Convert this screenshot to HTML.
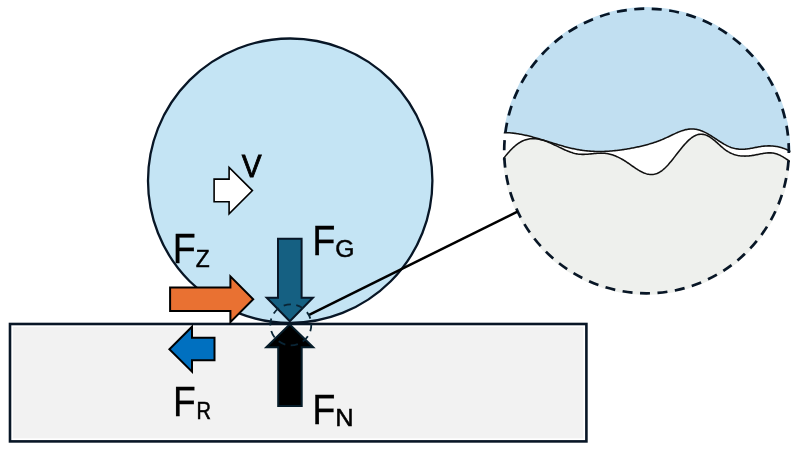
<!DOCTYPE html>
<html><head><meta charset="utf-8"><style>
html,body{margin:0;padding:0;background:#fff;width:800px;height:450px;overflow:hidden}
svg{display:block;will-change:transform}
text{font-family:"Liberation Sans",sans-serif;fill:#000}
</style></head><body>
<svg width="800" height="450" viewBox="0 0 800 450">
<defs>
<clipPath id="mag"><circle cx="646.5" cy="151" r="144"/></clipPath>
</defs>
<!-- ground rect -->
<rect x="10" y="324" width="576.4" height="117.4" fill="#ffffff" stroke="#081626" stroke-width="2.6"/>
<rect x="13" y="327" width="570.4" height="111.4" fill="#f2f2f2"/>
<!-- wheel -->
<circle cx="290.2" cy="180.7" r="142.2" fill="#c4e4f4" stroke="#081626" stroke-width="2.3"/>
<!-- magnifier -->
<g clip-path="url(#mag)">
<rect x="500" y="5" width="300" height="295" fill="#ffffff"/>
<path d="M496.0,133.16 L497.0,133.04 L498.0,132.94 L499.0,132.85 L500.0,132.78 L501.0,132.72 L502.0,132.68 L503.0,132.65 L504.0,132.64 L505.0,132.64 L506.0,132.66 L507.0,132.69 L508.0,132.73 L509.0,132.78 L510.0,132.85 L511.0,132.93 L512.0,133.02 L513.0,133.13 L514.0,133.24 L515.0,133.37 L516.0,133.50 L517.0,133.65 L518.0,133.80 L519.0,133.97 L520.0,134.15 L521.0,134.33 L522.0,134.52 L523.0,134.73 L524.0,134.93 L525.0,135.15 L526.0,135.38 L527.0,135.61 L528.0,135.85 L529.0,136.09 L530.0,136.35 L531.0,136.60 L532.0,136.87 L533.0,137.14 L534.0,137.41 L535.0,137.69 L536.0,137.97 L537.0,138.26 L538.0,138.55 L539.0,138.84 L540.0,139.14 L541.0,139.44 L542.0,139.74 L543.0,140.05 L544.0,140.35 L545.0,140.66 L546.0,140.97 L547.0,141.28 L548.0,141.59 L549.0,141.90 L550.0,142.21 L551.0,142.52 L552.0,142.83 L553.0,143.14 L554.0,143.45 L555.0,143.75 L556.0,144.06 L557.0,144.36 L558.0,144.66 L559.0,144.96 L560.0,145.25 L561.0,145.54 L562.0,145.82 L563.0,146.11 L564.0,146.38 L565.0,146.66 L566.0,146.92 L567.0,147.19 L568.0,147.44 L569.0,147.69 L570.0,147.94 L571.0,148.18 L572.0,148.41 L573.0,148.63 L574.0,148.85 L575.0,149.05 L576.0,149.25 L577.0,149.45 L578.0,149.63 L579.0,149.80 L580.0,149.97 L581.0,150.12 L582.0,150.27 L583.0,150.41 L584.0,150.54 L585.0,150.66 L586.0,150.77 L587.0,150.87 L588.0,150.96 L589.0,151.05 L590.0,151.13 L591.0,151.20 L592.0,151.26 L593.0,151.31 L594.0,151.36 L595.0,151.40 L596.0,151.43 L597.0,151.45 L598.0,151.46 L599.0,151.47 L600.0,151.47 L601.0,151.46 L602.0,151.45 L603.0,151.43 L604.0,151.40 L605.0,151.36 L606.0,151.32 L607.0,151.27 L608.0,151.22 L609.0,151.15 L610.0,151.08 L611.0,151.01 L612.0,150.93 L613.0,150.84 L614.0,150.75 L615.0,150.64 L616.0,150.54 L617.0,150.43 L618.0,150.31 L619.0,150.19 L620.0,150.06 L621.0,149.92 L622.0,149.78 L623.0,149.64 L624.0,149.49 L625.0,149.33 L626.0,149.17 L627.0,149.01 L628.0,148.83 L629.0,148.66 L630.0,148.48 L631.0,148.29 L632.0,148.11 L633.0,147.91 L634.0,147.71 L635.0,147.51 L636.0,147.30 L637.0,147.09 L638.0,146.88 L639.0,146.66 L640.0,146.43 L641.0,146.20 L642.0,145.96 L643.0,145.72 L644.0,145.47 L645.0,145.22 L646.0,144.95 L647.0,144.68 L648.0,144.41 L649.0,144.12 L650.0,143.83 L651.0,143.53 L652.0,143.22 L653.0,142.90 L654.0,142.58 L655.0,142.24 L656.0,141.90 L657.0,141.54 L658.0,141.18 L659.0,140.80 L660.0,140.42 L661.0,140.02 L662.0,139.62 L663.0,139.20 L664.0,138.77 L665.0,138.33 L666.0,137.88 L667.0,137.42 L668.0,136.95 L669.0,136.47 L670.0,136.00 L671.0,135.52 L672.0,135.04 L673.0,134.56 L674.0,134.09 L675.0,133.63 L676.0,133.17 L677.0,132.73 L678.0,132.30 L679.0,131.89 L680.0,131.50 L681.0,131.12 L682.0,130.77 L683.0,130.45 L684.0,130.14 L685.0,129.87 L686.0,129.63 L687.0,129.43 L688.0,129.25 L689.0,129.12 L690.0,129.02 L691.0,128.97 L692.0,128.96 L693.0,128.99 L694.0,129.07 L695.0,129.18 L696.0,129.34 L697.0,129.53 L698.0,129.76 L699.0,130.03 L700.0,130.34 L701.0,130.68 L702.0,131.06 L703.0,131.47 L704.0,131.91 L705.0,132.39 L706.0,132.89 L707.0,133.42 L708.0,133.98 L709.0,134.56 L710.0,135.16 L711.0,135.78 L712.0,136.41 L713.0,137.05 L714.0,137.70 L715.0,138.36 L716.0,139.02 L717.0,139.68 L718.0,140.34 L719.0,140.99 L720.0,141.64 L721.0,142.27 L722.0,142.89 L723.0,143.49 L724.0,144.08 L725.0,144.64 L726.0,145.18 L727.0,145.69 L728.0,146.17 L729.0,146.62 L730.0,147.03 L731.0,147.41 L732.0,147.74 L733.0,148.04 L734.0,148.31 L735.0,148.54 L736.0,148.73 L737.0,148.89 L738.0,149.03 L739.0,149.13 L740.0,149.20 L741.0,149.24 L742.0,149.25 L743.0,149.24 L744.0,149.20 L745.0,149.14 L746.0,149.05 L747.0,148.94 L748.0,148.81 L749.0,148.66 L750.0,148.50 L751.0,148.33 L752.0,148.15 L753.0,147.96 L754.0,147.77 L755.0,147.57 L756.0,147.38 L757.0,147.19 L758.0,147.00 L759.0,146.82 L760.0,146.65 L761.0,146.49 L762.0,146.35 L763.0,146.22 L764.0,146.11 L765.0,146.03 L766.0,145.96 L767.0,145.91 L768.0,145.88 L769.0,145.88 L770.0,145.89 L771.0,145.93 L772.0,145.98 L773.0,146.06 L774.0,146.17 L775.0,146.29 L776.0,146.44 L777.0,146.61 L778.0,146.80 L779.0,147.02 L780.0,147.26 L781.0,147.53 L782.0,147.83 L783.0,148.14 L784.0,148.49 L785.0,148.86 L786.0,149.25 L787.0,149.67 L788.0,150.12 L789.0,150.60 L790.0,151.10 L791.0,151.63 L792.0,152.19 L793.0,152.78 L794.0,153.40 L795.0,154.05 L796.0,154.72 L795,0 L500,0 Z" fill="#c1dff1"/>
<path d="M494.0,171.69 L495.0,170.24 L496.0,168.79 L497.0,167.36 L498.0,165.94 L499.0,164.54 L500.0,163.16 L501.0,161.80 L502.0,160.47 L503.0,159.16 L504.0,157.87 L505.0,156.61 L506.0,155.38 L507.0,154.19 L508.0,153.02 L509.0,151.90 L510.0,150.81 L511.0,149.76 L512.0,148.75 L513.0,147.78 L514.0,146.86 L515.0,145.98 L516.0,145.16 L517.0,144.38 L518.0,143.65 L519.0,142.98 L520.0,142.36 L521.0,141.80 L522.0,141.28 L523.0,140.81 L524.0,140.39 L525.0,140.02 L526.0,139.69 L527.0,139.41 L528.0,139.18 L529.0,138.98 L530.0,138.83 L531.0,138.72 L532.0,138.65 L533.0,138.62 L534.0,138.63 L535.0,138.67 L536.0,138.75 L537.0,138.87 L538.0,139.02 L539.0,139.20 L540.0,139.41 L541.0,139.66 L542.0,139.92 L543.0,140.22 L544.0,140.54 L545.0,140.88 L546.0,141.24 L547.0,141.63 L548.0,142.03 L549.0,142.44 L550.0,142.87 L551.0,143.31 L552.0,143.77 L553.0,144.23 L554.0,144.70 L555.0,145.18 L556.0,145.66 L557.0,146.14 L558.0,146.63 L559.0,147.11 L560.0,147.60 L561.0,148.07 L562.0,148.55 L563.0,149.01 L564.0,149.47 L565.0,149.92 L566.0,150.35 L567.0,150.77 L568.0,151.18 L569.0,151.57 L570.0,151.94 L571.0,152.29 L572.0,152.61 L573.0,152.92 L574.0,153.20 L575.0,153.45 L576.0,153.67 L577.0,153.87 L578.0,154.03 L579.0,154.16 L580.0,154.25 L581.0,154.32 L582.0,154.36 L583.0,154.37 L584.0,154.36 L585.0,154.33 L586.0,154.29 L587.0,154.23 L588.0,154.15 L589.0,154.07 L590.0,153.98 L591.0,153.88 L592.0,153.78 L593.0,153.68 L594.0,153.58 L595.0,153.49 L596.0,153.40 L597.0,153.32 L598.0,153.26 L599.0,153.20 L600.0,153.17 L601.0,153.15 L602.0,153.16 L603.0,153.19 L604.0,153.25 L605.0,153.33 L606.0,153.45 L607.0,153.60 L608.0,153.78 L609.0,153.98 L610.0,154.22 L611.0,154.49 L612.0,154.78 L613.0,155.11 L614.0,155.46 L615.0,155.84 L616.0,156.24 L617.0,156.67 L618.0,157.13 L619.0,157.61 L620.0,158.12 L621.0,158.65 L622.0,159.21 L623.0,159.79 L624.0,160.39 L625.0,161.02 L626.0,161.66 L627.0,162.33 L628.0,163.01 L629.0,163.70 L630.0,164.40 L631.0,165.10 L632.0,165.80 L633.0,166.50 L634.0,167.19 L635.0,167.87 L636.0,168.54 L637.0,169.18 L638.0,169.81 L639.0,170.41 L640.0,170.98 L641.0,171.52 L642.0,172.02 L643.0,172.49 L644.0,172.91 L645.0,173.29 L646.0,173.63 L647.0,173.91 L648.0,174.15 L649.0,174.32 L650.0,174.45 L651.0,174.51 L652.0,174.51 L653.0,174.44 L654.0,174.30 L655.0,174.10 L656.0,173.82 L657.0,173.46 L658.0,173.03 L659.0,172.51 L660.0,171.93 L661.0,171.27 L662.0,170.55 L663.0,169.76 L664.0,168.91 L665.0,167.99 L666.0,167.02 L667.0,166.00 L668.0,164.92 L669.0,163.79 L670.0,162.62 L671.0,161.42 L672.0,160.18 L673.0,158.92 L674.0,157.64 L675.0,156.35 L676.0,155.06 L677.0,153.77 L678.0,152.48 L679.0,151.21 L680.0,149.95 L681.0,148.70 L682.0,147.48 L683.0,146.29 L684.0,145.13 L685.0,144.00 L686.0,142.91 L687.0,141.87 L688.0,140.88 L689.0,139.94 L690.0,139.06 L691.0,138.24 L692.0,137.49 L693.0,136.81 L694.0,136.20 L695.0,135.67 L696.0,135.23 L697.0,134.87 L698.0,134.59 L699.0,134.39 L700.0,134.27 L701.0,134.22 L702.0,134.26 L703.0,134.36 L704.0,134.55 L705.0,134.80 L706.0,135.13 L707.0,135.52 L708.0,135.99 L709.0,136.52 L710.0,137.12 L711.0,137.79 L712.0,138.51 L713.0,139.28 L714.0,140.09 L715.0,140.94 L716.0,141.81 L717.0,142.70 L718.0,143.61 L719.0,144.51 L720.0,145.42 L721.0,146.31 L722.0,147.18 L723.0,148.02 L724.0,148.83 L725.0,149.60 L726.0,150.32 L727.0,150.99 L728.0,151.61 L729.0,152.18 L730.0,152.71 L731.0,153.20 L732.0,153.64 L733.0,154.04 L734.0,154.40 L735.0,154.72 L736.0,155.01 L737.0,155.26 L738.0,155.47 L739.0,155.65 L740.0,155.80 L741.0,155.92 L742.0,156.00 L743.0,156.06 L744.0,156.09 L745.0,156.10 L746.0,156.08 L747.0,156.04 L748.0,155.97 L749.0,155.89 L750.0,155.78 L751.0,155.66 L752.0,155.52 L753.0,155.36 L754.0,155.19 L755.0,155.01 L756.0,154.82 L757.0,154.62 L758.0,154.42 L759.0,154.22 L760.0,154.02 L761.0,153.82 L762.0,153.64 L763.0,153.46 L764.0,153.31 L765.0,153.17 L766.0,153.05 L767.0,152.96 L768.0,152.89 L769.0,152.86 L770.0,152.85 L771.0,152.89 L772.0,152.97 L773.0,153.09 L774.0,153.25 L775.0,153.47 L776.0,153.73 L777.0,154.06 L778.0,154.43 L779.0,154.86 L780.0,155.32 L781.0,155.83 L782.0,156.37 L783.0,156.95 L784.0,157.55 L785.0,158.18 L786.0,158.83 L787.0,159.49 L788.0,160.17 L789.0,160.85 L790.0,161.53 L791.0,162.22 L792.0,162.90 L793.0,163.57 L794.0,164.23 L795.0,164.87 L796.0,165.50 L795,300 L500,300 Z" fill="#eef0ed"/>
<path d="M496.0,133.16 L497.0,133.04 L498.0,132.94 L499.0,132.85 L500.0,132.78 L501.0,132.72 L502.0,132.68 L503.0,132.65 L504.0,132.64 L505.0,132.64 L506.0,132.66 L507.0,132.69 L508.0,132.73 L509.0,132.78 L510.0,132.85 L511.0,132.93 L512.0,133.02 L513.0,133.13 L514.0,133.24 L515.0,133.37 L516.0,133.50 L517.0,133.65 L518.0,133.80 L519.0,133.97 L520.0,134.15 L521.0,134.33 L522.0,134.52 L523.0,134.73 L524.0,134.93 L525.0,135.15 L526.0,135.38 L527.0,135.61 L528.0,135.85 L529.0,136.09 L530.0,136.35 L531.0,136.60 L532.0,136.87 L533.0,137.14 L534.0,137.41 L535.0,137.69 L536.0,137.97 L537.0,138.26 L538.0,138.55 L539.0,138.84 L540.0,139.14 L541.0,139.44 L542.0,139.74 L543.0,140.05 L544.0,140.35 L545.0,140.66 L546.0,140.97 L547.0,141.28 L548.0,141.59 L549.0,141.90 L550.0,142.21 L551.0,142.52 L552.0,142.83 L553.0,143.14 L554.0,143.45 L555.0,143.75 L556.0,144.06 L557.0,144.36 L558.0,144.66 L559.0,144.96 L560.0,145.25 L561.0,145.54 L562.0,145.82 L563.0,146.11 L564.0,146.38 L565.0,146.66 L566.0,146.92 L567.0,147.19 L568.0,147.44 L569.0,147.69 L570.0,147.94 L571.0,148.18 L572.0,148.41 L573.0,148.63 L574.0,148.85 L575.0,149.05 L576.0,149.25 L577.0,149.45 L578.0,149.63 L579.0,149.80 L580.0,149.97 L581.0,150.12 L582.0,150.27 L583.0,150.41 L584.0,150.54 L585.0,150.66 L586.0,150.77 L587.0,150.87 L588.0,150.96 L589.0,151.05 L590.0,151.13 L591.0,151.20 L592.0,151.26 L593.0,151.31 L594.0,151.36 L595.0,151.40 L596.0,151.43 L597.0,151.45 L598.0,151.46 L599.0,151.47 L600.0,151.47 L601.0,151.46 L602.0,151.45 L603.0,151.43 L604.0,151.40 L605.0,151.36 L606.0,151.32 L607.0,151.27 L608.0,151.22 L609.0,151.15 L610.0,151.08 L611.0,151.01 L612.0,150.93 L613.0,150.84 L614.0,150.75 L615.0,150.64 L616.0,150.54 L617.0,150.43 L618.0,150.31 L619.0,150.19 L620.0,150.06 L621.0,149.92 L622.0,149.78 L623.0,149.64 L624.0,149.49 L625.0,149.33 L626.0,149.17 L627.0,149.01 L628.0,148.83 L629.0,148.66 L630.0,148.48 L631.0,148.29 L632.0,148.11 L633.0,147.91 L634.0,147.71 L635.0,147.51 L636.0,147.30 L637.0,147.09 L638.0,146.88 L639.0,146.66 L640.0,146.43 L641.0,146.20 L642.0,145.96 L643.0,145.72 L644.0,145.47 L645.0,145.22 L646.0,144.95 L647.0,144.68 L648.0,144.41 L649.0,144.12 L650.0,143.83 L651.0,143.53 L652.0,143.22 L653.0,142.90 L654.0,142.58 L655.0,142.24 L656.0,141.90 L657.0,141.54 L658.0,141.18 L659.0,140.80 L660.0,140.42 L661.0,140.02 L662.0,139.62 L663.0,139.20 L664.0,138.77 L665.0,138.33 L666.0,137.88 L667.0,137.42 L668.0,136.95 L669.0,136.47 L670.0,136.00 L671.0,135.52 L672.0,135.04 L673.0,134.56 L674.0,134.09 L675.0,133.63 L676.0,133.17 L677.0,132.73 L678.0,132.30 L679.0,131.89 L680.0,131.50 L681.0,131.12 L682.0,130.77 L683.0,130.45 L684.0,130.14 L685.0,129.87 L686.0,129.63 L687.0,129.43 L688.0,129.25 L689.0,129.12 L690.0,129.02 L691.0,128.97 L692.0,128.96 L693.0,128.99 L694.0,129.07 L695.0,129.18 L696.0,129.34 L697.0,129.53 L698.0,129.76 L699.0,130.03 L700.0,130.34 L701.0,130.68 L702.0,131.06 L703.0,131.47 L704.0,131.91 L705.0,132.39 L706.0,132.89 L707.0,133.42 L708.0,133.98 L709.0,134.56 L710.0,135.16 L711.0,135.78 L712.0,136.41 L713.0,137.05 L714.0,137.70 L715.0,138.36 L716.0,139.02 L717.0,139.68 L718.0,140.34 L719.0,140.99 L720.0,141.64 L721.0,142.27 L722.0,142.89 L723.0,143.49 L724.0,144.08 L725.0,144.64 L726.0,145.18 L727.0,145.69 L728.0,146.17 L729.0,146.62 L730.0,147.03 L731.0,147.41 L732.0,147.74 L733.0,148.04 L734.0,148.31 L735.0,148.54 L736.0,148.73 L737.0,148.89 L738.0,149.03 L739.0,149.13 L740.0,149.20 L741.0,149.24 L742.0,149.25 L743.0,149.24 L744.0,149.20 L745.0,149.14 L746.0,149.05 L747.0,148.94 L748.0,148.81 L749.0,148.66 L750.0,148.50 L751.0,148.33 L752.0,148.15 L753.0,147.96 L754.0,147.77 L755.0,147.57 L756.0,147.38 L757.0,147.19 L758.0,147.00 L759.0,146.82 L760.0,146.65 L761.0,146.49 L762.0,146.35 L763.0,146.22 L764.0,146.11 L765.0,146.03 L766.0,145.96 L767.0,145.91 L768.0,145.88 L769.0,145.88 L770.0,145.89 L771.0,145.93 L772.0,145.98 L773.0,146.06 L774.0,146.17 L775.0,146.29 L776.0,146.44 L777.0,146.61 L778.0,146.80 L779.0,147.02 L780.0,147.26 L781.0,147.53 L782.0,147.83 L783.0,148.14 L784.0,148.49 L785.0,148.86 L786.0,149.25 L787.0,149.67 L788.0,150.12 L789.0,150.60 L790.0,151.10 L791.0,151.63 L792.0,152.19 L793.0,152.78 L794.0,153.40 L795.0,154.05 L796.0,154.72" fill="none" stroke="#111" stroke-width="1.55"/>
<path d="M494.0,171.69 L495.0,170.24 L496.0,168.79 L497.0,167.36 L498.0,165.94 L499.0,164.54 L500.0,163.16 L501.0,161.80 L502.0,160.47 L503.0,159.16 L504.0,157.87 L505.0,156.61 L506.0,155.38 L507.0,154.19 L508.0,153.02 L509.0,151.90 L510.0,150.81 L511.0,149.76 L512.0,148.75 L513.0,147.78 L514.0,146.86 L515.0,145.98 L516.0,145.16 L517.0,144.38 L518.0,143.65 L519.0,142.98 L520.0,142.36 L521.0,141.80 L522.0,141.28 L523.0,140.81 L524.0,140.39 L525.0,140.02 L526.0,139.69 L527.0,139.41 L528.0,139.18 L529.0,138.98 L530.0,138.83 L531.0,138.72 L532.0,138.65 L533.0,138.62 L534.0,138.63 L535.0,138.67 L536.0,138.75 L537.0,138.87 L538.0,139.02 L539.0,139.20 L540.0,139.41 L541.0,139.66 L542.0,139.92 L543.0,140.22 L544.0,140.54 L545.0,140.88 L546.0,141.24 L547.0,141.63 L548.0,142.03 L549.0,142.44 L550.0,142.87 L551.0,143.31 L552.0,143.77 L553.0,144.23 L554.0,144.70 L555.0,145.18 L556.0,145.66 L557.0,146.14 L558.0,146.63 L559.0,147.11 L560.0,147.60 L561.0,148.07 L562.0,148.55 L563.0,149.01 L564.0,149.47 L565.0,149.92 L566.0,150.35 L567.0,150.77 L568.0,151.18 L569.0,151.57 L570.0,151.94 L571.0,152.29 L572.0,152.61 L573.0,152.92 L574.0,153.20 L575.0,153.45 L576.0,153.67 L577.0,153.87 L578.0,154.03 L579.0,154.16 L580.0,154.25 L581.0,154.32 L582.0,154.36 L583.0,154.37 L584.0,154.36 L585.0,154.33 L586.0,154.29 L587.0,154.23 L588.0,154.15 L589.0,154.07 L590.0,153.98 L591.0,153.88 L592.0,153.78 L593.0,153.68 L594.0,153.58 L595.0,153.49 L596.0,153.40 L597.0,153.32 L598.0,153.26 L599.0,153.20 L600.0,153.17 L601.0,153.15 L602.0,153.16 L603.0,153.19 L604.0,153.25 L605.0,153.33 L606.0,153.45 L607.0,153.60 L608.0,153.78 L609.0,153.98 L610.0,154.22 L611.0,154.49 L612.0,154.78 L613.0,155.11 L614.0,155.46 L615.0,155.84 L616.0,156.24 L617.0,156.67 L618.0,157.13 L619.0,157.61 L620.0,158.12 L621.0,158.65 L622.0,159.21 L623.0,159.79 L624.0,160.39 L625.0,161.02 L626.0,161.66 L627.0,162.33 L628.0,163.01 L629.0,163.70 L630.0,164.40 L631.0,165.10 L632.0,165.80 L633.0,166.50 L634.0,167.19 L635.0,167.87 L636.0,168.54 L637.0,169.18 L638.0,169.81 L639.0,170.41 L640.0,170.98 L641.0,171.52 L642.0,172.02 L643.0,172.49 L644.0,172.91 L645.0,173.29 L646.0,173.63 L647.0,173.91 L648.0,174.15 L649.0,174.32 L650.0,174.45 L651.0,174.51 L652.0,174.51 L653.0,174.44 L654.0,174.30 L655.0,174.10 L656.0,173.82 L657.0,173.46 L658.0,173.03 L659.0,172.51 L660.0,171.93 L661.0,171.27 L662.0,170.55 L663.0,169.76 L664.0,168.91 L665.0,167.99 L666.0,167.02 L667.0,166.00 L668.0,164.92 L669.0,163.79 L670.0,162.62 L671.0,161.42 L672.0,160.18 L673.0,158.92 L674.0,157.64 L675.0,156.35 L676.0,155.06 L677.0,153.77 L678.0,152.48 L679.0,151.21 L680.0,149.95 L681.0,148.70 L682.0,147.48 L683.0,146.29 L684.0,145.13 L685.0,144.00 L686.0,142.91 L687.0,141.87 L688.0,140.88 L689.0,139.94 L690.0,139.06 L691.0,138.24 L692.0,137.49 L693.0,136.81 L694.0,136.20 L695.0,135.67 L696.0,135.23 L697.0,134.87 L698.0,134.59 L699.0,134.39 L700.0,134.27 L701.0,134.22 L702.0,134.26 L703.0,134.36 L704.0,134.55 L705.0,134.80 L706.0,135.13 L707.0,135.52 L708.0,135.99 L709.0,136.52 L710.0,137.12 L711.0,137.79 L712.0,138.51 L713.0,139.28 L714.0,140.09 L715.0,140.94 L716.0,141.81 L717.0,142.70 L718.0,143.61 L719.0,144.51 L720.0,145.42 L721.0,146.31 L722.0,147.18 L723.0,148.02 L724.0,148.83 L725.0,149.60 L726.0,150.32 L727.0,150.99 L728.0,151.61 L729.0,152.18 L730.0,152.71 L731.0,153.20 L732.0,153.64 L733.0,154.04 L734.0,154.40 L735.0,154.72 L736.0,155.01 L737.0,155.26 L738.0,155.47 L739.0,155.65 L740.0,155.80 L741.0,155.92 L742.0,156.00 L743.0,156.06 L744.0,156.09 L745.0,156.10 L746.0,156.08 L747.0,156.04 L748.0,155.97 L749.0,155.89 L750.0,155.78 L751.0,155.66 L752.0,155.52 L753.0,155.36 L754.0,155.19 L755.0,155.01 L756.0,154.82 L757.0,154.62 L758.0,154.42 L759.0,154.22 L760.0,154.02 L761.0,153.82 L762.0,153.64 L763.0,153.46 L764.0,153.31 L765.0,153.17 L766.0,153.05 L767.0,152.96 L768.0,152.89 L769.0,152.86 L770.0,152.85 L771.0,152.89 L772.0,152.97 L773.0,153.09 L774.0,153.25 L775.0,153.47 L776.0,153.73 L777.0,154.06 L778.0,154.43 L779.0,154.86 L780.0,155.32 L781.0,155.83 L782.0,156.37 L783.0,156.95 L784.0,157.55 L785.0,158.18 L786.0,158.83 L787.0,159.49 L788.0,160.17 L789.0,160.85 L790.0,161.53 L791.0,162.22 L792.0,162.90 L793.0,163.57 L794.0,164.23 L795.0,164.87 L796.0,165.50" fill="none" stroke="#111" stroke-width="1.55"/>
</g>
<circle cx="646.5" cy="151" r="142.3" fill="none" stroke="#081626" stroke-width="2.7" pathLength="51" stroke-dasharray="0.5714 0.4286" stroke-dashoffset="0.45"/>
<!-- connector -->
<line x1="309.1" y1="314.8" x2="517.5" y2="211.6" stroke="#000" stroke-width="2.5"/>
<!-- V arrow -->
<polygon points="214.1,179.1 229.1,179.1 229.1,167.4 252.4,190.6 229.1,213.8 229.1,201.8 214.1,201.8" fill="#fff" stroke="#000" stroke-width="1.6"/>
<!-- FZ orange -->
<polygon points="170.1,287.4 230.4,287.4 230.4,276.3 253.2,299.2 230.4,322.1 230.4,311 170.1,311" fill="#e97132" stroke="#000" stroke-width="2"/>
<!-- FR blue -->
<polygon points="214.5,337.7 192,337.7 192,326.7 169.4,349.2 192,371.7 192,360.3 214.5,360.3" fill="#0070c0" stroke="#000" stroke-width="2"/>
<!-- FG -->
<polygon points="278,238.7 301.6,238.7 301.6,297.7 312.9,297.7 289.8,321.2 266.7,297.7 278,297.7" fill="#156082" stroke="#081626" stroke-width="2"/>
<!-- FN -->
<polygon points="278.2,406 301.7,406 301.7,347.2 313.2,347.2 289.7,324.4 266.3,347.2 278.2,347.2" fill="#000" stroke="#061c29" stroke-width="2"/>
<!-- small dashed circle -->
<circle cx="290.8" cy="324.8" r="20.5" fill="none" stroke="#0a2535" stroke-width="1.8" pathLength="10" stroke-dasharray="0.5714 0.4286" stroke-dashoffset="0.0635"/>
<!-- labels -->
<text transform="translate(172.83,263.38) scale(0.37748,0.42806)" font-size="100" stroke="#000" stroke-width="0.62">F</text>
<text transform="translate(195.73,266.55) scale(0.22816,0.24419)" font-size="100" stroke="#000" stroke-width="2.12">Z</text>
<text transform="translate(312.21,254.88) scale(0.37952,0.42951)" font-size="100" stroke="#000" stroke-width="0.62">F</text>
<text transform="translate(335.21,257.02) scale(0.24662,0.23305)" font-size="100" stroke="#000" stroke-width="2.08">G</text>
<text transform="translate(173.06,416.07) scale(0.37339,0.43242)" font-size="100" stroke="#000" stroke-width="0.62">F</text>
<text transform="translate(196.41,418.75) scale(0.20042,0.24274)" font-size="100" stroke="#000" stroke-width="2.26">R</text>
<text transform="translate(312.21,423.88) scale(0.37952,0.43242)" font-size="100" stroke="#000" stroke-width="0.62">F</text>
<text transform="translate(335.26,426.45) scale(0.25421,0.24128)" font-size="100" stroke="#000" stroke-width="2.02">N</text>
<text transform="translate(241.67,176.80) scale(0.29778,0.30669)" font-size="100" stroke="#000" stroke-width="2.65">V</text>
</svg>
</body></html>
